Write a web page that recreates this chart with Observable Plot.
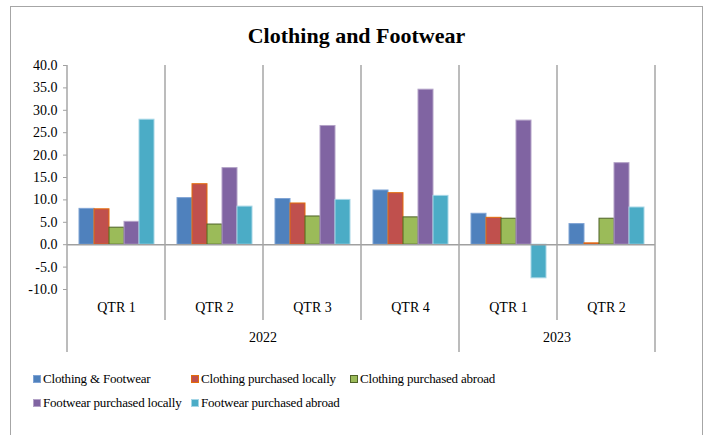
<!DOCTYPE html>
<html><head><meta charset="utf-8">
<script src="https://cdn.jsdelivr.net/npm/d3@7"></script>
<script src="https://cdn.jsdelivr.net/npm/@observablehq/plot@0.6"></script>
<style>
html,body{margin:0;padding:0;background:#fff;}
body{font-family:"Liberation Serif",serif;color:#000;width:721px;height:435px;position:relative;overflow:hidden;}
#frame{position:absolute;left:10px;top:6px;width:693px;height:440px;border:1px solid #a6a6a6;box-sizing:border-box;}
#title{position:absolute;left:10px;top:23px;width:693px;text-align:center;font-weight:bold;font-size:22px;line-height:26px;}
#chart{position:absolute;left:0;top:50px;}
#legend{position:absolute;left:0;top:0;width:721px;height:435px;pointer-events:none;}
.item{position:absolute;font-size:13px;letter-spacing:-0.2px;line-height:16px;white-space:nowrap;display:flex;align-items:center;}
.sw{display:inline-block;width:6px;height:6px;margin-right:2px;border:1px solid;}
</style></head>
<body>
<div id="frame"></div>
<div id="title">Clothing and Footwear</div>
<div id="chart"></div>
<div id="legend"></div>
<script>
const years = ["2022","2022","2022","2022","2023","2023"];
const quarters = ["QTR 1","QTR 2","QTR 3","QTR 4","QTR 1","QTR 2"];
const series = ["Clothing & Footwear","Clothing purchased locally","Clothing purchased abroad","Footwear purchased locally","Footwear purchased abroad"];
const clothingFootwear = [8.0,10.4,10.2,12.1,6.9,4.6];
const clothingLocal = [7.9,13.5,9.2,11.5,6.0,0.3];
const clothingAbroad = [3.8,4.5,6.3,6.1,5.8,5.8];
const footwearLocal = [5.1,17.1,26.5,34.6,27.7,18.2];
const footwearAbroad = [27.9,8.5,10.0,10.9,-7.5,8.3];
const yTicks = [-10,-5,0,5,10,15,20,25,30,35,40];
const fills = ["#4F81BD","#C0504D","#9BBB59","#8064A2","#4BACC6"];
const strokes = ["#7FA3D4","#E46C0A","#4F6228","#B3A2C7","#A5D6E6"];

const periods = quarters.map((q,i)=>years[i]+"|"+q);
const valueSets = [clothingFootwear,clothingLocal,clothingAbroad,footwearLocal,footwearAbroad];
const rows = [];
valueSets.forEach((vals,s)=>vals.forEach((v,i)=>rows.push({period:periods[i],series:series[s],value:v})));

const plot = Plot.plot({
  width:721, height:310,
  marginLeft:67, marginRight:66, marginTop:15, marginBottom:71,
  fx:{domain:periods, padding:0, axis:null, label:null},
  x:{domain:series, paddingInner:0, paddingOuter:0.72, axis:null, label:null},
  y:{domain:[-10,40], axis:null, label:null},
  style:{fontFamily:"Liberation Serif", fontSize:"14px", color:"#000", background:"transparent"},
  marks:[
    ...series.map((s,i)=>Plot.barY(rows.filter(r=>r.series===s),{fx:"period", x:"series", y:"value", fill:fills[i], stroke:strokes[i], strokeWidth:1})),
    Plot.ruleY([0],{stroke:"#a0a0a0", strokeWidth:1.5}),
    Plot.axisY({ticks:yTicks, tickFormat:d=>d.toFixed(1), tickSize:4, tickPadding:6, stroke:"#a0a0a0", fontSize:14, label:null}),
    Plot.axisFx({anchor:"bottom", tickSize:0, tickPadding:13, tickFormat:d=>d.split("|")[1], fontSize:14, label:null})
  ]
});
document.getElementById("chart").appendChild(plot);

// category separators and year labels drawn from the plot's own scales
const fx = plot.scale("fx"), y = plot.scale("y");
const bw = fx.bandwidth;
const svg = d3.select(plot);
const g = svg.append("g").attr("stroke","#a6a6a6").attr("stroke-width",1.5);
const yTop = y.apply(40), yBot = y.apply(-10);
periods.forEach((p,i)=>{
  const x0 = fx.apply(p);
  const isYearStart = i===0 || years[i]!==years[i-1];
  g.append("line").attr("x1",x0).attr("x2",x0).attr("y1",yTop).attr("y2",yBot+(isYearStart?63:31));
});
const xEnd = fx.apply(periods[periods.length-1])+bw;
g.append("line").attr("x1",xEnd).attr("x2",xEnd).attr("y1",yTop).attr("y2",yBot+63);
const uniqYears = [...new Set(years)];
uniqYears.forEach(yr=>{
  const ps = periods.filter((p,i)=>years[i]===yr);
  const x0 = fx.apply(ps[0]), x1 = fx.apply(ps[ps.length-1])+bw;
  svg.append("text").attr("x",(x0+x1)/2).attr("y",yBot+50).attr("text-anchor","middle")
    .attr("dominant-baseline","middle").attr("font-size",14).attr("fill","#000").text(yr);
});

// legend
const cols = [33,191,350];
const legendPos = [[0,0],[1,0],[2,0],[0,1],[1,1]];
const leg = document.getElementById("legend");
series.forEach((s,i)=>{
  const [c,r] = legendPos[i];
  const d = document.createElement("div");
  d.className="item";
  d.style.left = cols[c]+"px";
  d.style.top = (371+r*24)+"px";
  d.innerHTML = `<span class="sw" style="background:${fills[i]};border-color:${strokes[i]}"></span>${s}`;
  leg.appendChild(d);
});
</script>
</body></html>
